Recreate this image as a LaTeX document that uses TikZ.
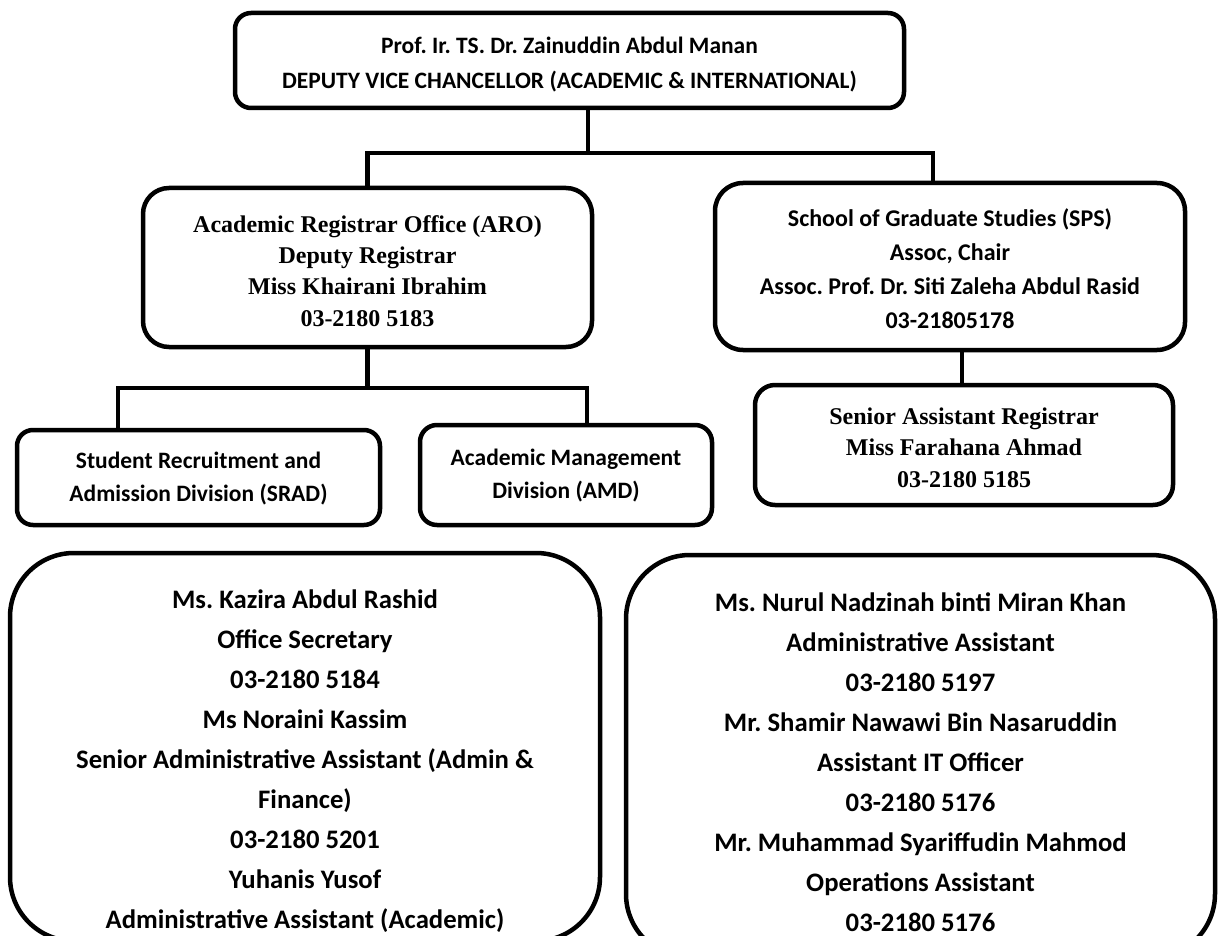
\documentclass[tikz,border=0pt]{standalone}
\usepackage{fontspec}
\setmainfont{Liberation Serif}
\newfontfamily\calfont{Carlito}
\begin{document}
\frenchspacing
\begin{tikzpicture}[x=1pt,y=-1pt,
  box/.style={draw=black, line width=4.5pt, inner sep=0pt, fill=white},
  txt/.style={align=center, inner sep=0pt, anchor=north},
  conn/.style={draw=black, line width=4.5pt},
  ftop/.style={font=\calfont\bfseries\fontsize{23.5}{35}\selectfont},
  fsps/.style={font=\calfont\bfseries\fontsize{24}{34}\selectfont},
  fdiv/.style={font=\calfont\bfseries\fontsize{23.5}{33}\selectfont},
  fbig/.style={font=\calfont\bfseries\fontsize{26.7}{40}\selectfont},
  ftim/.style={font=\bfseries\fontsize{24}{31.3}\selectfont}]
\useasboundingbox (0,0) rectangle (1219,936);
\clip (0,0) rectangle (1219,936);

% boxes
\node[box, minimum width=669pt, minimum height=95pt, rounded corners=16pt] (dvc) at (569.5,60.5) {};
\node[box, minimum width=449pt, minimum height=159pt, rounded corners=26pt] (aro) at (367.5,267.5) {};
\node[box, minimum width=470pt, minimum height=167pt, rounded corners=28pt] (sps) at (950,266.5) {};
\node[box, minimum width=418pt, minimum height=120pt, rounded corners=20pt] (sar) at (964,445) {};
\node[box, minimum width=363pt, minimum height=95pt, rounded corners=16pt] (srad) at (198.5,477.5) {};
\node[box, minimum width=292pt, minimum height=100pt, rounded corners=17pt] (amd) at (566,475) {};
\node[box, minimum width=590pt, minimum height=388pt, rounded corners=64pt] (staffL) at (305,747) {};
\node[box, minimum width=589pt, minimum height=403pt, rounded corners=64pt] (staffR) at (920.5,756.5) {};

% texts
\node[txt, ftop] (dvcT) at (569.5,28.5)
  {\strut Prof. Ir. TS. Dr. Zainuddin Abdul Manan\\DEPUTY VICE CHANCELLOR (ACADEMIC \& INTERNATIONAL)};
\node[txt, ftim] (aroT) at (367.5,210.1)
  {\strut Academic Registrar Office (ARO)\\Deputy Registrar\\Miss Khairani Ibrahim\\03-2180 5183};
\node[txt, fsps] (spsT) at (950,202.2)
  {\strut School of Graduate Studies (SPS)\\Assoc, Chair\\Assoc. Prof. Dr. Siti Zaleha Abdul Rasid\\03-21805178};
\node[txt, ftim] (sarT) at (964,402.3)
  {\strut Senior Assistant Registrar\\Miss Farahana Ahmad\\03-2180 5185};
\node[txt, fdiv] (sradT) at (198.5,444.9)
  {\strut Student Recruitment and\\Admission Division (SRAD)};
\node[txt, fdiv] (amdT) at (566,441.9)
  {\strut Academic Management\\Division (AMD)};
\node[txt, fbig] (staffLT) at (305,580)
  {\strut Ms. Kazira Abdul Rashid\\Office Secretary\\03-2180 5184\\Ms Noraini Kassim\\Senior Administrative Assistant (Admin \&\\Finance)\\03-2180 5201\\Yuhanis Yusof\\Administrative Assistant (Academic)};
\node[txt, fbig] (staffRT) at (920.5,583)
  {\strut Ms. Nurul Nadzinah binti Miran Khan\\Administrative Assistant\\03-2180 5197\\Mr. Shamir Nawawi Bin Nasaruddin\\Assistant IT Officer\\03-2180 5176\\Mr. Muhammad Syariffudin Mahmod\\Operations Assistant\\03-2180 5176};

% connectors
\coordinate (jA) at (588,153);
\coordinate (jL) at (aro.north |- jA);
\coordinate (jR) at (933,153);
\draw[conn] (dvc.south -| jA) -- (jA);
\draw[conn] (aro.north) -- (jL) -- (jR) -- (sps.north -| jR);

\coordinate (kA) at (367.5,388);
\coordinate (kL) at (118,388);
\coordinate (kR) at (587,388);
\draw[conn] (aro.south) -- (kA);
\draw[conn] (srad.north -| kL) -- (kL) -- (kR) -- (amd.north -| kR);

\coordinate (m) at (962,0);
\draw[conn] (sps.south -| m) -- (sar.north -| m);
\end{tikzpicture}
\end{document}
